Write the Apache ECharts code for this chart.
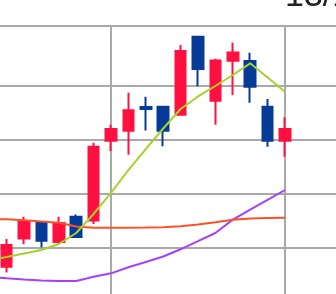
<!DOCTYPE html>
<html><head><meta charset="utf-8">
<script src="https://cdn.jsdelivr.net/npm/echarts@6/dist/echarts.min.js"></script>
<style>html,body{margin:0;padding:0;background:#fff;overflow:hidden}#c{width:336px;height:294px}</style>
</head><body><div id="c"></div>
<script>
const categories = ['13/06/14','13/06/21','13/06/28','13/07/05','13/07/12','13/07/19','13/07/26','13/08/02','13/08/09','13/08/16',
  '13/08/23','13/08/30','13/09/06','13/09/13','13/09/20','13/09/27','13/10/04','13/10/11','13/10/18','13/10/25',
  '13/11/01','13/11/08','13/11/15','13/11/22','13/11/29','13/12/06','13/12/13','13/12/20','13/12/27','14/01/03'];
// [open, close, low, high]
const candles = [
  ['-','-','-','-'],['-','-','-','-'],['-','-','-','-'],['-','-','-','-'],
  [96.54,100.56,95.46,101.67],
  [101.76,104.81,100.69,105.80],
  [104.72,101.35,100.13,104.81],
  [101.11,104.63,101.02,105.80],
  [105.80,102.04,102.04,106.20],
  [105.09,118.76,104.44,119.50],
  [119.87,122.04,117.96,122.83],
  [121.72,125.50,117.28,128.76],
  [126.10,125.75,121.76,128.02],
  [126.17,121.72,118.83,126.17],
  [124.69,136.48,124.69,137.59],
  [139.13,133.15,129.94,139.13],
  [127.28,134.72,122.83,135.06],
  [134.69,136.20,128.33,138.02],
  [134.63,129.87,126.91,136.17],
  [126.17,119.87,118.76,127.59],
  [119.87,122.04,116.91,124.20],
  ['-','-','-','-'],['-','-','-','-'],['-','-','-','-'],['-','-','-','-'],['-','-','-','-'],
  ['-','-','-','-'],['-','-','-','-'],['-','-','-','-'],['-','-','-','-']
];
const maShort = ['-','-','-',97.78,98.33,98.98,99.63,100.74,102.78,106.30,110.19,114.44,118.33,122.13,125.74,128.06,130.00,132.04,134.20,131.57,128.94,
  '-','-','-','-','-','-','-','-','-'];
const maMid = ['-','-','-',105.37,105.31,105.13,104.91,104.69,103.98,103.76,103.76,103.76,103.80,103.85,104.02,104.35,104.76,105.22,105.46,105.56,105.61,
  '-','-','-','-','-','-','-','-','-'];
const maLong = ['-','-','-',94.63,94.39,94.17,93.98,93.89,93.89,94.69,95.31,96.43,97.41,98.43,99.76,101.26,102.78,105.26,107.09,108.93,110.74,
  '-','-','-','-','-','-','-','-','-'];

const gridColor = '#a9a9a9';
const upColor = '#ff1040';
const downColor = '#063a97';
const chart = echarts.init(document.getElementById('c'), null, {renderer: 'canvas'});
chart.setOption({
  animation: false,
  backgroundColor: '#ffffff',
  grid: [
    {left: -63, right: -105.6, top: 26, bottom: -62, outerBoundsMode: 'none', containLabel: false},
    {left: -63, right: -105.6, top: 86, bottom: -62, outerBoundsMode: 'none', containLabel: false}
  ],
  xAxis: [
    {type: 'category', data: categories, boundaryGap: false, position: 'top', gridIndex: 0,
     axisLine: {show: true, lineStyle: {color: gridColor, width: 2}},
     axisTick: {show: false},
     axisLabel: {show: true, interval: function (i) { return i === 20; }, align: 'left', margin: 12,
       fontSize: 34, color: '#222', fontFamily: 'Liberation Sans'},
     splitLine: {show: true, interval: function (i) { return i % 10 === 0; }, lineStyle: {color: gridColor, width: 2}}},
    {type: 'value', gridIndex: 1, min: 0, max: 1, show: false}
  ],
  yAxis: [
    {type: 'value', gridIndex: 0, min: 80, max: 141.11, axisLine: {show: false}, axisTick: {show: false},
     axisLabel: {show: false}, splitLine: {show: false}},
    {type: 'value', gridIndex: 1, min: 80, max: 130, interval: 10, axisLine: {show: false}, axisTick: {show: false},
     axisLabel: {show: false}, splitLine: {show: true, lineStyle: {color: gridColor, width: 2}}}
  ],
  series: [
    {type: 'candlestick', xAxisIndex: 0, yAxisIndex: 0, data: candles, barWidth: 11,
     itemStyle: {color: upColor, color0: downColor, borderColor: upColor, borderColor0: downColor, borderWidth: 2}},
    {type: 'line', xAxisIndex: 0, yAxisIndex: 0, data: maLong, showSymbol: false, symbol: 'none',
     lineStyle: {color: '#a640ff', width: 2}},
    {type: 'line', xAxisIndex: 0, yAxisIndex: 0, data: maMid, showSymbol: false, symbol: 'none',
     lineStyle: {color: '#ff5028', width: 2}},
    {type: 'line', xAxisIndex: 0, yAxisIndex: 0, data: maShort, showSymbol: false, symbol: 'none',
     lineStyle: {color: '#a6d22a', width: 2}}
  ]
});
</script>
</body></html>
